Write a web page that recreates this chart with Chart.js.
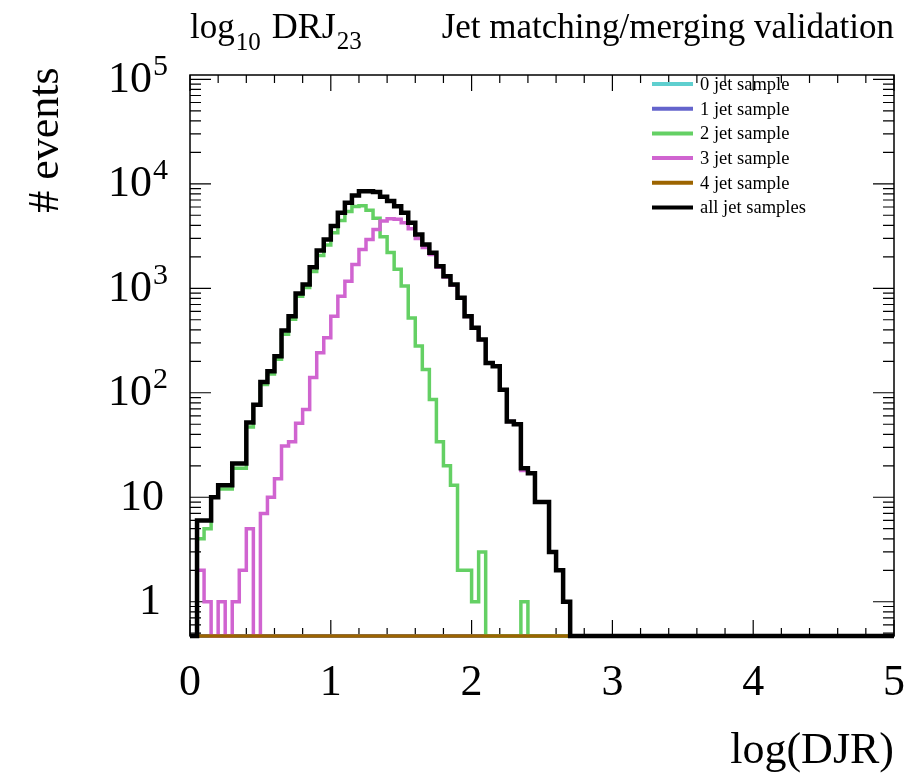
<!DOCTYPE html>
<html>
<head>
<meta charset="utf-8">
<script src="https://cdn.jsdelivr.net/npm/chart.js@4.4.0/dist/chart.umd.min.js"></script>
<style>
  html, body { margin: 0; padding: 0; background: #fff; }
</style>
</head>
<body>
<canvas id="djr" width="908" height="776"></canvas>
<script>
// binning of log10 DRJ23: 100 bins from 0 to 5
var xMin = 0, xMax = 5, binWidth = 0.05;

var sampleNames = ['0 jet sample', '1 jet sample', '2 jet sample', '3 jet sample', '4 jet sample', 'all jet samples'];
var sampleColors = ['#5fcfcf', '#6464cc', '#64d064', '#d064d0', '#9c6400', '#000000'];

// events per bin
var jet0 = [
  0,0,0,0,0,0,0,0,0,0, 0,0,0,0,0,0,0,0,0,0,
  0,0,0,0,0,0,0,0,0,0, 0,0,0,0,0,0,0,0,0,0,
  0,0,0,0,0,0,0,0,0,0, 0,0,0,0,0,0,0,0,0,0,
  0,0,0,0,0,0,0,0,0,0, 0,0,0,0,0,0,0,0,0,0,
  0,0,0,0,0,0,0,0,0,0, 0,0,0,0,0,0,0,0,0,0
];
var jet1 = [
  0,0,0,0,0,0,0,0,0,0, 0,0,0,0,0,0,0,0,0,0,
  0,0,0,0,0,0,0,0,0,0, 0,0,0,0,0,0,0,0,0,0,
  0,0,0,0,0,0,0,0,0,0, 0,0,0,0,0,0,0,0,0,0,
  0,0,0,0,0,0,0,0,0,0, 0,0,0,0,0,0,0,0,0,0,
  0,0,0,0,0,0,0,0,0,0, 0,0,0,0,0,0,0,0,0,0
];
var jet2 = [
  0, 4, 5, 10, 12, 12, 19, 19, 47, 77,
  120, 151, 209, 363, 506, 839, 1020, 1450, 2060, 2600,
  3400, 4450, 5420, 6050, 6160, 5570, 4670, 3120, 2200, 1520,
  1050, 520, 280, 167, 86, 34, 20, 13, 2, 2,
  1, 3, 0, 0, 0, 0, 0, 1, 0, 0,
  0,0,0,0,0,0,0,0,0,0, 0,0,0,0,0,0,0,0,0,0,
  0,0,0,0,0,0,0,0,0,0, 0,0,0,0,0,0,0,0,0,0,
  0,0,0,0,0,0,0,0,0,0
];
var jet3 = [
  0, 2, 1, 0, 1, 0, 1, 2, 5, 0,
  7, 10, 15, 31, 34, 51, 69, 140, 241, 336,
  540, 840, 1170, 1690, 2350, 2930, 3660, 4400, 4630, 4590,
  4240, 3720, 3000, 2460, 2100, 1590, 1286, 1072, 809, 538,
  417, 321, 193, 179, 107, 53, 50, 18, 17, 9,
  9, 3, 2, 1, 0, 0, 0, 0, 0, 0,
  0,0,0,0,0,0,0,0,0,0, 0,0,0,0,0,0,0,0,0,0,
  0,0,0,0,0,0,0,0,0,0, 0,0,0,0,0,0,0,0,0,0
];
var jet4 = [
  0,0,0,0,0,0,0,0,0,0, 0,0,0,0,0,0,0,0,0,0,
  0,0,0,0,0,0,0,0,0,0, 0,0,0,0,0,0,0,0,0,0,
  0,0,0,0,0,0,0,0,0,0, 0,0,0,0,0,0,0,0,0,0,
  0,0,0,0,0,0,0,0,0,0, 0,0,0,0,0,0,0,0,0,0,
  0,0,0,0,0,0,0,0,0,0, 0,0,0,0,0,0,0,0,0,0
];
var jetAll = [
  0, 6, 6, 10, 13, 13, 21, 21, 52, 77,
  127, 161, 224, 394, 540, 890, 1090, 1590, 2300, 2930,
  3940, 5290, 6590, 7740, 8510, 8500, 8330, 7520, 6830, 6110,
  5290, 4240, 3275, 2630, 2190, 1625, 1306, 1085, 811, 540,
  418, 324, 193, 179, 107, 53, 50, 19, 17, 9,
  9, 3, 2, 1, 0, 0, 0, 0, 0, 0,
  0,0,0,0,0,0,0,0,0,0, 0,0,0,0,0,0,0,0,0,0,
  0,0,0,0,0,0,0,0,0,0, 0,0,0,0,0,0,0,0,0,0
];

var yMin = 0.47, yMax = 1.1e5;
var yDecades = [0, 1, 2, 3, 4, 5];
var xTickLabels = ['0', '1', '2', '3', '4', '5'];

var FONT = '"Liberation Serif", "DejaVu Serif", serif';

// histogram -> step points; empty bins sit on the bottom of the log axis
function histPoints(values) {
  var pts = values.map(function(v, i) {
    return { x: xMin + i * binWidth, y: v > 0 ? v : yMin };
  });
  var last = values[values.length - 1];
  pts.push({ x: xMax, y: last > 0 ? last : yMin });
  return pts;
}

var allSamples = [jet0, jet1, jet2, jet3, jet4, jetAll];
var datasets = allSamples.map(function(vals, k) {
  return {
    label: sampleNames[k],
    data: histPoints(vals),
    borderColor: sampleColors[k],
    borderWidth: k === 5 ? 4.5 : 3.5,
    stepped: 'before',
    pointRadius: 0,
    fill: false,
    clip: false,
    order: 5 - k
  };
});

function supText(ctx, base, sup, xRight, y, size) {
  ctx.font = size + 'px ' + FONT;
  var wb = ctx.measureText(base).width;
  var ssize = Math.round(size * 0.68);
  ctx.font = ssize + 'px ' + FONT;
  var ws = sup ? ctx.measureText(sup).width + 1 : 0;
  var x0 = xRight - wb - ws;
  ctx.textAlign = 'left';
  ctx.textBaseline = 'middle';
  ctx.font = size + 'px ' + FONT;
  ctx.fillText(base, x0, y);
  if (sup) {
    ctx.font = ssize + 'px ' + FONT;
    ctx.fillText(sup, x0 + wb + 1, y - size * 0.3);
  }
}

var rootFrame = {
  id: 'rootFrame',
  beforeDatasetsDraw: function(chart) {
    var ctx = chart.ctx, a = chart.chartArea;
    var xs = chart.scales.x, ys = chart.scales.y;
    ctx.save();
    ctx.strokeStyle = '#000';
    ctx.lineWidth = 1.5;
    ctx.strokeRect(a.left, a.top, a.right - a.left, a.bottom - a.top);
    ctx.lineWidth = 1.2;
    ctx.beginPath();
    // x ticks every 0.2, major every 1
    for (var k = 0; k <= 25; k++) {
      var px = xs.getPixelForValue(k * 0.2);
      var len = (k % 5 === 0) ? 16 : 8;
      ctx.moveTo(px, a.bottom); ctx.lineTo(px, a.bottom - len);
      ctx.moveTo(px, a.top); ctx.lineTo(px, a.top + len);
    }
    // log y ticks
    for (var d = -1; d <= 5; d++) {
      for (var m = 1; m <= 9; m++) {
        var v = m * Math.pow(10, d);
        if (v < yMin || v > yMax) continue;
        var py = ys.getPixelForValue(v);
        var l = (m === 1) ? 21 : 11;
        ctx.moveTo(a.left, py); ctx.lineTo(a.left + l, py);
        ctx.moveTo(a.right, py); ctx.lineTo(a.right - l, py);
      }
    }
    ctx.stroke();
    ctx.restore();
  },
  afterDraw: function(chart) {
    var ctx = chart.ctx, a = chart.chartArea;
    var xs = chart.scales.x, ys = chart.scales.y;
    ctx.save();
    ctx.fillStyle = '#000';

    // y labels
    yDecades.forEach(function(d) {
      var py = ys.getPixelForValue(Math.pow(10, d)) + 1;
      if (d === 0) supText(ctx, '1', '', 161, py, 44);
      else if (d === 1) supText(ctx, '10', '', 164, py, 44);
      else supText(ctx, '10', String(d), 168, py, 44);
    });

    // x labels
    ctx.font = '44px ' + FONT;
    ctx.textAlign = 'center';
    ctx.textBaseline = 'middle';
    xTickLabels.forEach(function(t) {
      ctx.fillText(t, xs.getPixelForValue(parseFloat(t)), 683);
    });

    // axis titles
    ctx.textAlign = 'right';
    ctx.fillText('log(DJR)', a.right, 751);
    ctx.save();
    ctx.translate(46, 140);
    ctx.rotate(-Math.PI / 2);
    ctx.textAlign = 'center';
    ctx.fillText('# events', 0, 0);
    ctx.restore();

    // top texts
    ctx.textBaseline = 'alphabetic';
    ctx.textAlign = 'left';
    var x = a.left;
    ctx.font = '35px ' + FONT;
    ctx.fillText('log', x, 38); x += ctx.measureText('log').width + 1;
    ctx.font = '25px ' + FONT;
    ctx.fillText('10', x, 50); x += ctx.measureText('10').width + 2;
    ctx.font = '36px ' + FONT;
    ctx.fillText(' DRJ', x, 38); x += ctx.measureText(' DRJ').width + 1;
    ctx.font = '25px ' + FONT;
    ctx.fillText('23', x, 49);
    ctx.font = '35px ' + FONT;
    ctx.textAlign = 'right';
    ctx.fillText('Jet matching/merging validation', a.right, 38);

    // legend
    ctx.font = '18.5px ' + FONT;
    ctx.textAlign = 'left';
    ctx.textBaseline = 'middle';
    sampleNames.forEach(function(name, k) {
      var ly = 84 + k * 24.7;
      ctx.strokeStyle = sampleColors[k];
      ctx.lineWidth = 4;
      ctx.beginPath();
      ctx.moveTo(652, ly); ctx.lineTo(693, ly);
      ctx.stroke();
      ctx.fillText(name, 700, ly + 1);
    });
    ctx.restore();
  }
};

var config = {
  type: 'line',
  data: { datasets: datasets },
  options: {
    responsive: false,
    devicePixelRatio: 1,
    animation: false,
    layout: { padding: { top: 75, right: 14, left: 0, bottom: 0 } },
    plugins: { legend: { display: false }, tooltip: { enabled: false } },
    scales: {
      x: {
        type: 'linear', min: xMin, max: xMax,
        ticks: { display: false }, grid: { display: false }, border: { display: false },
        afterFit: function(s) { s.height = 140; }
      },
      y: {
        type: 'logarithmic', min: yMin, max: yMax,
        ticks: { display: false }, grid: { display: false }, border: { display: false },
        afterFit: function(s) { s.width = 190; }
      }
    }
  },
  plugins: [rootFrame]
};

window.myChart = new Chart(document.getElementById('djr').getContext('2d'), config);
</script>
</body>
</html>
